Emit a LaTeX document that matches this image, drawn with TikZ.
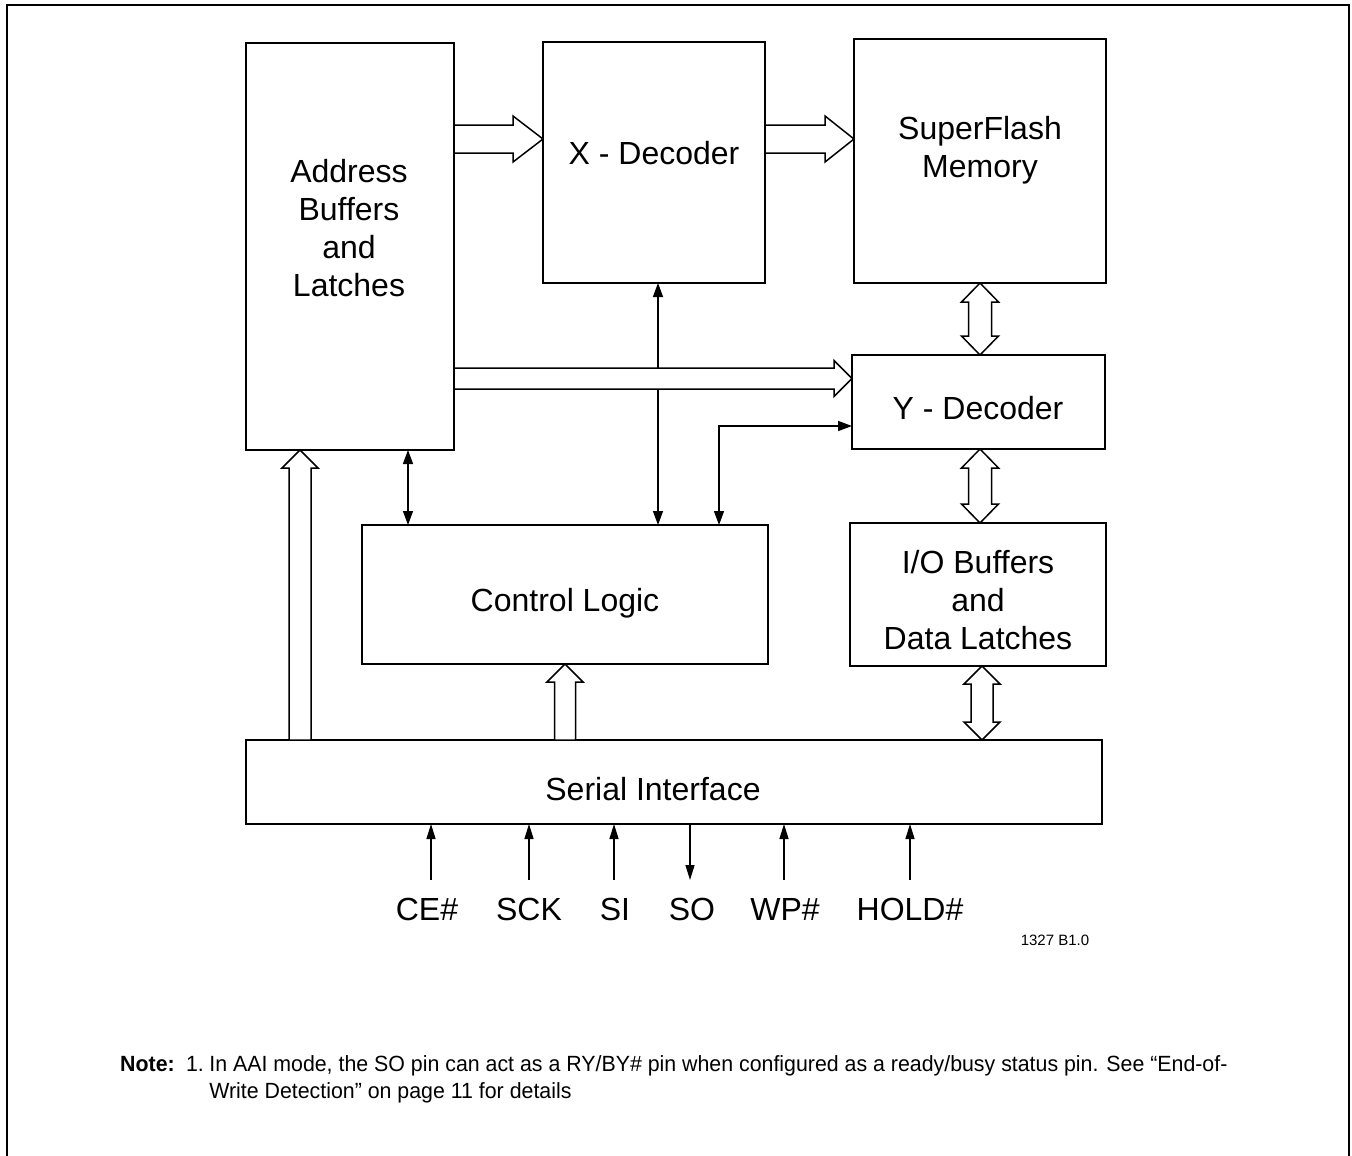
\documentclass[tikz,border=0pt]{standalone}
\usepackage{fontspec}
\setmainfont{Liberation Sans}
\newfontfamily\notefont{Liberation Sans}[FakeStretch=0.97]
\usetikzlibrary{calc,arrows.meta}
\newcommand\hollowarrow[5]{%
  \coordinate (hb) at ($(#2)!#5!(#1)$);
  \filldraw[hollow] ($(#1)!#3!90:(#2)$) -- ($(hb)!#3!90:(#2)$) -- ($(hb)!#4!90:(#2)$) -- (#2)
    -- ($(hb)!#4!-90:(#2)$) -- ($(hb)!#3!-90:(#2)$) -- ($(#1)!#3!-90:(#2)$) -- cycle;}
\newcommand\hollowdarrow[5]{%
  \coordinate (hb) at ($(#2)!#5!(#1)$);
  \coordinate (ha) at ($(#1)!#5!(#2)$);
  \filldraw[hollow] (#1) -- ($(ha)!#4!90:(#2)$) -- ($(ha)!#3!90:(#2)$) -- ($(hb)!#3!90:(#2)$)
    -- ($(hb)!#4!90:(#2)$) -- (#2) -- ($(hb)!#4!-90:(#2)$) -- ($(hb)!#3!-90:(#2)$)
    -- ($(ha)!#3!-90:(#2)$) -- ($(ha)!#4!-90:(#2)$) -- cycle;}
\begin{document}
\begin{tikzpicture}[x=1pt,y=-1pt,
  box/.style={draw, line width=1.5pt, inner sep=0pt, outer sep=0pt},
  lbl/.style={font=\fontsize{32}{38}\selectfont, align=center, inner sep=0pt},
  tarrow/.style={line width=1.4pt, {Triangle[length=14pt,width=10pt]}-{Triangle[length=14pt,width=10pt]}},
  pinarrow/.style={line width=1.4pt, -{Triangle[length=15pt,width=9pt]}},
  hollow/.style={draw, fill=white, line width=1.5pt, line join=miter},
  notef/.style={font=\notefont\fontsize{22}{27}\selectfont, inner sep=0pt}]
\useasboundingbox (0,0) rectangle (1352,1156);
\draw[line width=2.5pt] (7,1170) -- (7,5) -- (1349,5) -- (1349,1170);

% boxes
\node[box, minimum width=208pt, minimum height=407pt] (addr) at (350,246.5) {};
\node[box, minimum width=222pt, minimum height=241pt] (xdec) at (654,162.5) {};
\node[box, minimum width=252pt, minimum height=244pt] (sf) at (980,161) {};
\node[box, minimum width=253pt, minimum height=94pt] (ydec) at (978.5,402) {};
\node[box, minimum width=256pt, minimum height=143pt] (io) at (978,594.5) {};
\node[box, minimum width=406pt, minimum height=139pt] (ctrl) at (565,594.5) {};
\node[box, minimum width=856pt, minimum height=84pt] (serial) at (674,782) {};

% labels
\node[lbl] (addrT) at (349,228) {Address\\Buffers\\and\\Latches};
\node[lbl] (xdecT) at (654,153) {X - Decoder};
\node[lbl] (sfT) at (980,150.5) {SuperFlash\\Memory};
\node[lbl] (ydecT) at (978,408) {Y - Decoder};
\node[lbl] (ctrlT) at (565,603) {Control Logic};
\node[lbl] (ioT) at (978,600.5) {I/O Buffers\\and\\Data Latches};
\node[lbl] (serialT) at (653,789) {Serial Interface};

% thin connectors
\draw[tarrow] (xdec.south -| 658,0) -- (ctrl.north -| 658,0);
\draw[tarrow] (addr.south -| 408,0) -- (ctrl.north -| 408,0);
\draw[tarrow] (ctrl.north -| 719,0) |- (ydec.west |- 0,426);

% hollow arrows
\coordinate (a1) at (addr.east |- 0,139); \coordinate (a2) at (xdec.west |- 0,139);
\hollowarrow{a1}{a2}{14pt}{23pt}{30pt}
\coordinate (b1) at (xdec.east |- 0,139); \coordinate (b2) at (sf.west |- 0,139);
\hollowarrow{b1}{b2}{14pt}{23pt}{29pt}
\coordinate (c1) at (addr.east |- 0,378.5); \coordinate (c2) at (ydec.west |- 0,378.5);
\hollowarrow{c1}{c2}{10.5pt}{18pt}{18pt}
\coordinate (g1) at (serial.north -| 300,0); \coordinate (g2) at (addr.south -| 300,0);
\hollowarrow{g1}{g2}{11pt}{18pt}{18pt}
\coordinate (h1) at (serial.north -| 565,0); \coordinate (h2) at (ctrl.south -| 565,0);
\hollowarrow{h1}{h2}{10.5pt}{18pt}{18pt}
\coordinate (d1) at (sf.south -| 980,0); \coordinate (d2) at (ydec.north -| 980,0);
\hollowdarrow{d1}{d2}{11.5pt}{18.5pt}{19pt}
\coordinate (e1) at (ydec.south -| 980,0); \coordinate (e2) at (io.north -| 980,0);
\hollowdarrow{e1}{e2}{11.5pt}{18.5pt}{19pt}
\coordinate (f1) at (io.south -| 982,0); \coordinate (f2) at (serial.north -| 982,0);
\hollowdarrow{f1}{f2}{11pt}{18pt}{18pt}

% pins
\node[lbl] (ce) at (427,909) {CE\#};
\node[lbl] (sck) at (529,909) {SCK};
\node[lbl] (si) at (615,909) {SI};
\node[lbl] (so) at (692,909) {SO};
\node[lbl] (wp) at (785,909) {WP\#};
\node[lbl] (hold) at (910,909) {HOLD\#};
\coordinate (pce) at (431,880);
\coordinate (psck) at (529,880);
\coordinate (psi) at (614,880);
\coordinate (pso) at (690,880);
\coordinate (pwp) at (784,880);
\coordinate (phold) at (910,880);
\draw[pinarrow] (pce) -- (serial.south -| pce);
\draw[pinarrow] (psck) -- (serial.south -| psck);
\draw[pinarrow] (psi) -- (serial.south -| psi);
\draw[pinarrow] (serial.south -| pso) -- (pso);
\draw[pinarrow] (pwp) -- (serial.south -| pwp);
\draw[pinarrow] (phold) -- (serial.south -| phold);

\node[inner sep=0pt, font=\fontsize{15}{18}\selectfont] (fig) at (1055,940) {1327 B1.0};

% note
\node[notef, anchor=base west] (note1) at (120,1071) {\textbf{Note:}};
\node[notef, anchor=base west] (note1n) at ($(note1.base east)+(11,0)$) {1.};
\node[notef, anchor=base west] (note1b) at ($(note1n.base east)+(5,0)$) {In AAI mode, the SO pin can act as a RY/BY\# pin when configured as a ready/busy status pin. See “End-of-};
\node[notef, anchor=base west] (note2) at ($(note1b.base west)+(0,27)$) {Write Detection” on page 11 for details};
\end{tikzpicture}
\end{document}
